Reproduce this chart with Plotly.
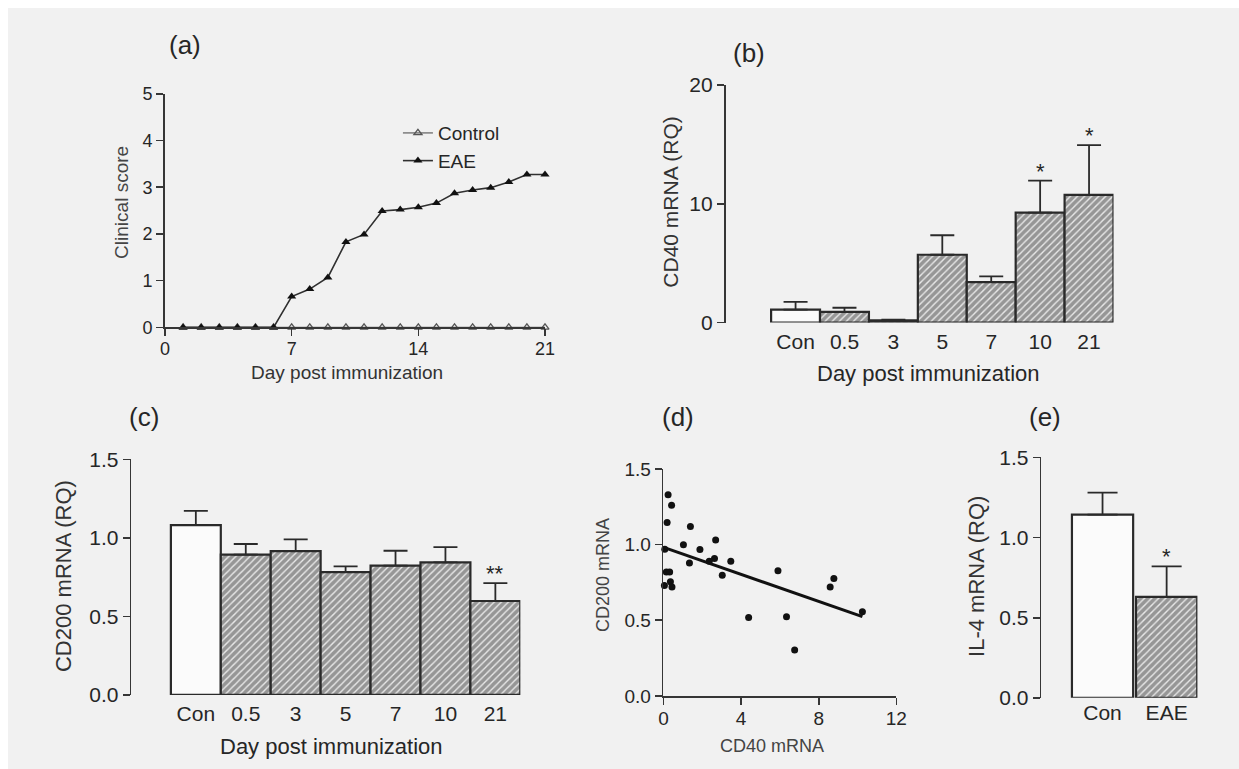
import plotly.graph_objects as go

# ---------------- data ----------------
# (a) clinical score
days = list(range(1, 22))
control_score = [0] * 21
eae_score = [0, 0, 0, 0, 0, 0, 0.66, 0.82, 1.07, 1.83, 1.99, 2.49, 2.52, 2.57,
             2.66, 2.87, 2.94, 2.99, 3.11, 3.27, 3.27]

# (b) CD40 mRNA
b_cats = ["Con", "0.5", "3", "5", "7", "10", "21"]
b_mean = [1.09, 0.90, 0.19, 5.71, 3.40, 9.25, 10.75]
b_err = [0.65, 0.35, 0.06, 1.64, 0.49, 2.70, 4.19]
b_sig = ["", "", "", "", "", "*", "*"]

# (c) CD200 mRNA
c_cats = ["Con", "0.5", "3", "5", "7", "10", "21"]
c_mean = [1.081, 0.893, 0.916, 0.782, 0.823, 0.844, 0.598]
c_err = [0.091, 0.068, 0.074, 0.037, 0.095, 0.097, 0.114]
c_sig = ["", "", "", "", "", "", "**"]

# (d) correlation CD40 vs CD200
d_x = [0.24, 0.42, 0.19, 1.39, 1.03, 2.69, 1.88, 0.07, 2.63, 2.36, 3.47, 1.34,
       3.03, 0.15, 0.32, 0.05, 0.36, 0.44, 5.90, 8.59, 8.78, 10.25, 4.39, 6.34, 6.76]
d_y = [1.33, 1.26, 1.147, 1.12, 1.00, 1.03, 0.968, 0.97, 0.908, 0.89, 0.89, 0.878,
       0.797, 0.82, 0.82, 0.73, 0.754, 0.72, 0.827, 0.72, 0.776, 0.556, 0.519, 0.523, 0.303]
fit_x = [0.05, 10.25]
fit_y = [0.98, 0.524]

# (e) IL-4 mRNA
e_cats = ["Con", "EAE"]
e_mean = [1.143, 0.63]
e_err = [0.137, 0.19]
e_sig = ["", "*"]

# ---------------- layout helpers ----------------
# page is 1239x769; the body keeps an 8px white margin at top/left only,
# so the figure is sized to fill the rest and page positions are shifted.
OFF_X, OFF_Y = 8, 8
W, H = 1239 - OFF_X, 769 - OFF_Y
FONT = "Arial, Liberation Sans, sans-serif"
INK = "#262626"
AX = "#363636"


def fx(p):
    return (p - OFF_X) / W


def fy(p):
    return 1 - (p - OFF_Y) / H


def dx(p0, p1):
    return [fx(p0), fx(p1)]


def dy(top, bottom):
    return [fy(bottom), fy(top)]


def axis(size=18, **kw):
    d = dict(showline=True, linecolor=AX, linewidth=1.8, ticks="outside",
             ticklen=7, tickwidth=1.6, tickcolor=AX, showgrid=False,
             zeroline=False, tickfont=dict(family=FONT, size=size, color=INK),
             fixedrange=True)
    d.update(kw)
    return d


def cat_axis(size=21, **kw):
    return axis(size=size, type="category", showline=False,
                tickcolor="rgba(0,0,0,0)", **kw)


fig = go.Figure()

# (a)
fig.add_trace(go.Scatter(x=days, y=control_score, mode="lines+markers", name="Control",
                         line=dict(color="#6a6a6a", width=1.3),
                         marker=dict(symbol="triangle-up-open", size=7, color="#555555",
                                     line=dict(width=1.3)),
                         cliponaxis=False, xaxis="x", yaxis="y"))
fig.add_trace(go.Scatter(x=days, y=eae_score, mode="lines+markers", name="EAE",
                         line=dict(color="#303030", width=1.6),
                         marker=dict(symbol="triangle-up", size=8, color="#111111"),
                         cliponaxis=False, xaxis="x", yaxis="y"))


def bar_trace(cats, mean, err, xa, ya, width=None, cap=12):
    shapes = ["" if c == "Con" else "/" for c in cats]
    colors = ["#fbfbfb" if c == "Con" else "#e9e9e9" for c in cats]
    return go.Bar(x=cats, y=mean, xaxis=xa, yaxis=ya, showlegend=False, width=width,
                  marker=dict(color=colors, line=dict(color="#2a2a2a", width=2.2),
                              pattern=dict(shape=shapes, fgcolor="#1c1c1c",
                                           bgcolor=colors, size=5, solidity=0.72)),
                  error_y=dict(type="data", symmetric=False, array=err,
                               arrayminus=[0] * len(err), color="#2a2a2a",
                               thickness=1.8, width=cap))


fig.add_trace(bar_trace(b_cats, b_mean, b_err, "x2", "y2"))
fig.add_trace(bar_trace(c_cats, c_mean, c_err, "x3", "y3"))

# (d)
fig.add_trace(go.Scatter(x=d_x, y=d_y, mode="markers", showlegend=False,
                         marker=dict(size=7, color="#111111"), cliponaxis=False,
                         xaxis="x4", yaxis="y4"))
fig.add_trace(go.Scatter(x=fit_x, y=fit_y, mode="lines", showlegend=False,
                         line=dict(color="#111111", width=3),
                         xaxis="x4", yaxis="y4"))

# (e)
fig.add_trace(bar_trace(e_cats, e_mean, e_err, "x5", "y5", width=0.955, cap=15))

fig.update_layout(
    width=W, height=H, margin=dict(l=0, r=0, t=0, b=0),
    paper_bgcolor="#f1f1f1", plot_bgcolor="rgba(0,0,0,0)",
    font=dict(family=FONT, color=INK), bargap=0,
    showlegend=True,
    legend=dict(x=fx(398), y=fy(105), xanchor="left", yanchor="top",
                bgcolor="rgba(0,0,0,0)", font=dict(family=FONT, size=19, color=INK),
                itemwidth=30, tracegroupgap=0),
    # (a)
    xaxis=axis(domain=dx(162, 547), range=[0, 21], tickvals=[0, 7, 14, 21],
               ticklabelstandoff=-3, anchor="y"),
    yaxis=axis(domain=dy(84, 325), range=[0, 5], tickvals=[0, 1, 2, 3, 4, 5],
               anchor="x"),
    # (b)
    xaxis2=cat_axis(domain=dx(730, 1123), range=[-1.43, 6.5], ticklen=4,
                    ticklabelstandoff=-4, anchor="y2"),
    yaxis2=axis(size=21, domain=dy(75, 320), range=[0, 20], tickvals=[0, 10, 20],
                anchor="x2"),
    # (c)
    xaxis3=cat_axis(domain=dx(128, 522), range=[-1.29, 6.5], ticklen=4,
                    ticklabelstandoff=-4, anchor="y3"),
    yaxis3=axis(size=21, domain=dy(461, 704), range=[0, 1.5],
                tickvals=[0, 0.5, 1.0, 1.5], tickformat=".1f", anchor="x3"),
    # (d)
    xaxis4=axis(size=19, domain=dx(667, 903), range=[0, 12], tickvals=[0, 4, 8, 12],
                ticklabelstandoff=-3, anchor="y4"),
    yaxis4=axis(size=19, domain=dy(471, 705), range=[0, 1.5],
                tickvals=[0, 0.5, 1.0, 1.5], tickformat=".1f", anchor="x4"),
    # (e)
    xaxis5=cat_axis(domain=dx(1050, 1208), range=[-0.953, 1.48], ticklen=1,
                    ticklabelstandoff=-5, anchor="y5"),
    yaxis5=axis(size=21, domain=dy(459, 707), range=[0, 1.5],
                tickvals=[0, 0.5, 1.0, 1.5], tickformat=".1f", anchor="x5"),
)

ann = []


def pl(text, x, y, size, angle=0, color=INK):
    ann.append(dict(text=text, x=fx(x), y=fy(y), xref="paper", yref="paper",
                    showarrow=False, textangle=angle, xanchor="center", yanchor="middle",
                    font=dict(family=FONT, size=size, color=color)))


# panel labels
pl("(a)", 182, 34, 26)
pl("(b)", 754, 42, 26)
pl("(c)", 141, 417, 26)
pl("(d)", 682, 417, 26)
pl("(e)", 1054, 417, 26)
# axis titles
pl("Clinical score", 118, 196, 19, -90, "#444444")
pl("Day post immunization", 346, 372, 19, 0, "#333333")
pl("CD40 mRNA (RQ)", 674, 195, 21, -90, "#333333")
pl("Day post immunization", 936, 373, 22)
pl("CD200 mRNA (RQ)", 59, 581, 22, -90, "#333333")
pl("Day post immunization", 331, 757, 22)
pl("CD200 mRNA", 605, 580, 18, -90, "#444444")
pl("CD40 mRNA", 777, 757, 18, 0, "#444444")
pl("IL-4 mRNA (RQ)", 984, 582, 22, -90, "#333333")

# significance stars
for cats, mean, err, sig, xa, ya in [(b_cats, b_mean, b_err, b_sig, "x2", "y2"),
                                     (c_cats, c_mean, c_err, c_sig, "x3", "y3"),
                                     (e_cats, e_mean, e_err, e_sig, "x5", "y5")]:
    for i, (m, e, s) in enumerate(zip(mean, err, sig)):
        if s:
            ann.append(dict(text=s, x=i, y=m + e, xref=xa, yref=ya, showarrow=False,
                            yanchor="bottom", yshift=-5,
                            font=dict(family=FONT, size=22, color=INK)))

fig.update_layout(annotations=ann)

fig.write_html("out.html", config={"displayModeBar": False, "staticPlot": True},
               post_script="document.body.style.margin='8px 0 0 8px';"
                           "document.body.style.overflow='hidden';")
